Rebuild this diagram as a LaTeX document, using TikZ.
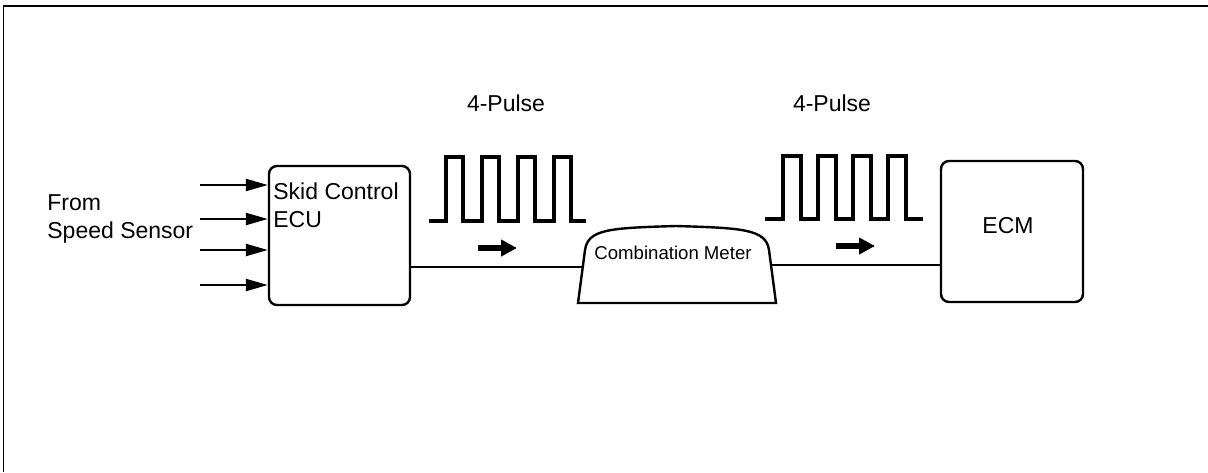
\documentclass[tikz,border=0pt]{standalone}
\usepackage{fontspec}
\setmainfont{Liberation Sans}
\usetikzlibrary{arrows.meta}

\tikzset{
  unitbox/.style={draw, line width=1.2pt, rounded corners=4pt, inner sep=0pt},
  txt/.style={font=\fontsize{11.5}{14}\selectfont, inner sep=0pt},
  pulse/.style={line width=1.7pt, line join=miter},
  wire/.style={line width=0.6pt},
  inarrow/.style={line width=1.1pt, -{Triangle[length=11pt, width=6pt]}},
  flow/.style={line width=2.8pt, -{Triangle[length=8pt, width=8pt]}}
}

\begin{document}
\begin{tikzpicture}[x=0.5pt, y=-0.5pt]
      \useasboundingbox (0,0) rectangle (1208,472);
      % frame
      \draw[line width=1.4pt] (3,6) -- (1208,6);
      \draw[line width=0.5pt] (3,6) -- (3,472);

      % Skid Control ECU
      \node (ecu) at (339.5,235.5) [unitbox, minimum width=70.5pt, minimum height=69.5pt] {};
      \node (ecutxt) at (273,182) [txt, anchor=north west, align=left] {Skid Control\\ECU};
      \node (from) at (47,194) [txt, anchor=north west, align=left] {From\\Speed Sensor};
      \foreach \y/\n in {185/1, 219/2, 250/3, 285/4} {
        \coordinate (in\n) at (200,\y);
        \draw[inarrow] (in\n) -- (in\n -| ecu.west);
      }

      % Combination Meter
      \coordinate (meterW) at (583,267);
      \coordinate (meterE) at (772,265);
      \draw[line width=1.2pt] (578,303) -- (585,250)
        .. controls (588,229) and (610,228) .. (676,226)
        .. controls (742,228) and (766,229) .. (769,250)
        -- (776,303) -- cycle;
      \node (meter) at (673,253) [font=\fontsize{9.3}{11}\selectfont, inner sep=0pt] {Combination Meter};

      % ECM
      \node (ecm) at (1012,231.5) [unitbox, minimum width=71pt, minimum height=70.5pt] {};
      \node (ecmtxt) at (1008,226) [txt] {ECM};

      % wires
      \draw[wire] (ecu.east |- meterW) -- (meterW);
      \draw[wire] (meterE) -- (meterE -| ecm.west);

      % pulse trains
      \foreach \s/\r/\p/\w/\e/\b/\t/\n in {429/446/36/17/586/221/157/1, 765/783/35/18/923/219/156/2} {
        \draw[pulse] (\s,\b) \foreach \k in {0,...,3} {
            -- (\r+\k*\p,\b) -- (\r+\k*\p,\t) -- (\r+\k*\p+\w,\t) -- (\r+\k*\p+\w,\b)
          } -- (\e,\b);
      }
      \node (lbl1) at (506,103) [txt] {4-Pulse};
      \node (lbl2) at (832,103) [txt] {4-Pulse};

      % direction arrows
      \coordinate (fa1) at (478,248);
      \coordinate (fb1) at (517,248);
      \coordinate (fa2) at (836,246);
      \coordinate (fb2) at (875,246);
      \draw[flow] (fa1) -- (fb1);
      \draw[flow] (fa2) -- (fb2);
\end{tikzpicture}
\end{document}
